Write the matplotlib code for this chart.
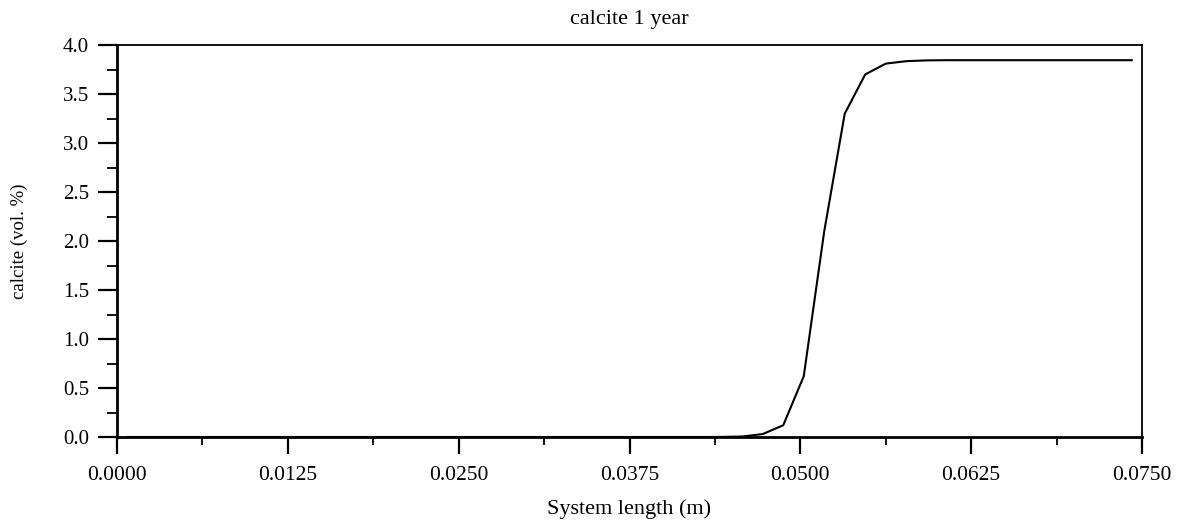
import matplotlib
matplotlib.use("Agg")
import matplotlib.pyplot as plt
from matplotlib.ticker import MultipleLocator, FormatStrFormatter

plt.rcParams['font.family'] = ['Liberation Serif', 'DejaVu Serif']

# cell-centre positions (m) and calcite volume fraction (vol. %)
x_pos = [0.00075 + 0.0015 * i for i in range(50)]
calcite = [0.0] * 29 + [0.001, 0.005, 0.03, 0.12, 0.62, 2.10, 3.30, 3.70, 3.81,
                        3.835, 3.843, 3.845, 3.845, 3.845, 3.845, 3.845, 3.845,
                        3.845, 3.845, 3.845, 3.845]

title = "calcite 1 year"
xlabel = "System length (m)"
ylabel = "calcite (vol. %)"

fig = plt.figure(figsize=(11.88, 5.22), dpi=100)
ax = fig.add_axes([117/1188, 1 - 437/522, (1142 - 117)/1188, (437 - 45)/522])
ax.plot(x_pos, calcite, color='black', lw=1.5)

ax.set_xlim(0, 0.075)
ax.set_ylim(0, 4.0)
ax.xaxis.set_major_locator(MultipleLocator(0.0125))
ax.xaxis.set_minor_locator(MultipleLocator(0.00625))
ax.yaxis.set_major_locator(MultipleLocator(0.5))
ax.yaxis.set_minor_locator(MultipleLocator(0.25))
ax.xaxis.set_major_formatter(FormatStrFormatter('%.4f'))
ax.yaxis.set_major_formatter(FormatStrFormatter('%.1f'))

ax.tick_params(axis='y', which='major', direction='out', length=14, width=1.6,
               labelsize=15, pad=6)
ax.tick_params(axis='y', which='minor', direction='out', length=7, width=1.3)
ax.tick_params(axis='x', which='major', direction='out', length=12, width=1.6,
               labelsize=15.5, pad=9)
ax.tick_params(axis='x', which='minor', direction='out', length=6, width=1.3)

ax.spines['left'].set_linewidth(2.0)
ax.spines['bottom'].set_linewidth(2.0)
ax.spines['top'].set_linewidth(1.3)
ax.spines['right'].set_linewidth(1.3)

ax.set_title(title, fontsize=16, pad=15)
ax.set_xlabel(xlabel, fontsize=16, labelpad=10.5)
ax.set_ylabel(ylabel, fontsize=13.5, labelpad=25)

fig.savefig("out.png", dpi=100)
